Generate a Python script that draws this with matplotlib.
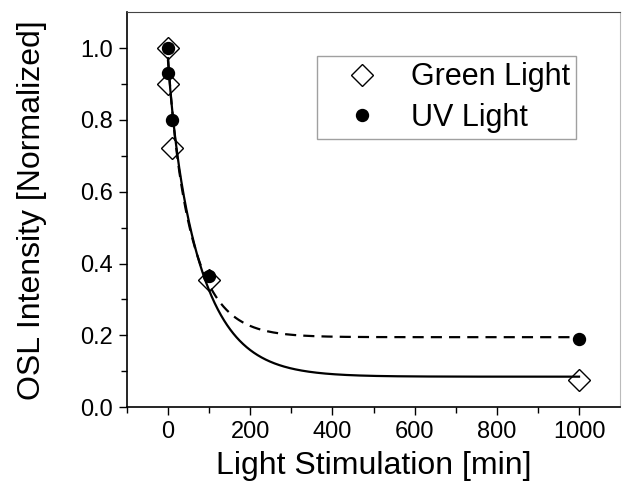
import numpy as np
import matplotlib
matplotlib.use("Agg")
import matplotlib.pyplot as plt

plt.rcParams['font.family'] = ['Liberation Sans', 'DejaVu Sans']

# Measured data
green_x = [0, 1, 10, 100, 1000]
green_y = [1.0, 0.90, 0.722, 0.354, 0.077]
uv_x = [0, 1, 10, 100, 1000]
uv_y = [1.0, 0.93, 0.80, 0.365, 0.19]

# Fit curve parameters (double exponential decay)
green_fit = dict(y0=0.085, a1=0.10, t1=15.0, a2=0.78, t2=85.0)
uv_fit = dict(y0=0.195, a1=0.10, t1=15.0, a2=0.68, t2=65.0)

xticks = [0, 200, 400, 600, 800, 1000]
yticks = [0.0, 0.2, 0.4, 0.6, 0.8, 1.0]


def fit_curve(x, p):
    return p['y0'] + p['a1'] * np.exp(-x / p['t1']) + p['a2'] * np.exp(-x / p['t2'])


fig = plt.figure(figsize=(6.22, 4.90), dpi=100)
ax = fig.add_axes([0.204, 0.169, 0.793, 0.806])

xf = np.linspace(0, 1000, 800)
ax.plot(xf, fit_curve(xf, green_fit), color='black', lw=1.6, zorder=2)
ax.plot(xf, fit_curve(xf, uv_fit), color='black', lw=1.6, dashes=(5, 3.2), zorder=2)

ax.plot(green_x, green_y, linestyle='none', marker='D', ms=11.5, mfc='none',
        mec='black', mew=1.0, zorder=3, label='Green Light')
ax.plot(uv_x, uv_y, linestyle='none', marker='o', ms=8.6, mfc='black',
        mec='black', zorder=4, label='UV Light')

ax.set_xlim(-100, 1100)
ax.set_ylim(0, 1.1)
ax.set_xticks(xticks)
ax.set_yticks(yticks)
ax.set_yticklabels([f'{v:.1f}' for v in yticks])
ax.set_xticks(np.arange(-100, 1100, 100), minor=True)
ax.set_yticks(np.arange(0, 1.1, 0.1), minor=True)
ax.tick_params(which='major', direction='out', length=6, width=1.0, labelsize=17, pad=4)
ax.tick_params(which='minor', direction='out', length=4, width=1.0)
ax.tick_params(top=False, right=False)

for s in ['left', 'bottom']:
    ax.spines[s].set_linewidth(1.2)
    ax.spines[s].set_color('black')
ax.spines['top'].set_color('#444444')
ax.spines['right'].set_color('#bbbbbb')

ax.set_xlabel('Light Stimulation [min]', fontsize=23, labelpad=6)
ax.set_ylabel('OSL Intensity [Normalized]', fontsize=23, labelpad=24)

leg = ax.legend(loc='upper right', bbox_to_anchor=(0.911, 0.889), borderaxespad=0,
                fontsize=22, frameon=True, fancybox=False, edgecolor='#888888',
                handletextpad=0.33, borderpad=0.2, labelspacing=0.35,
                handlelength=2.55)
leg.get_frame().set_linewidth(1.0)

fig.savefig('out.png', dpi=100)
